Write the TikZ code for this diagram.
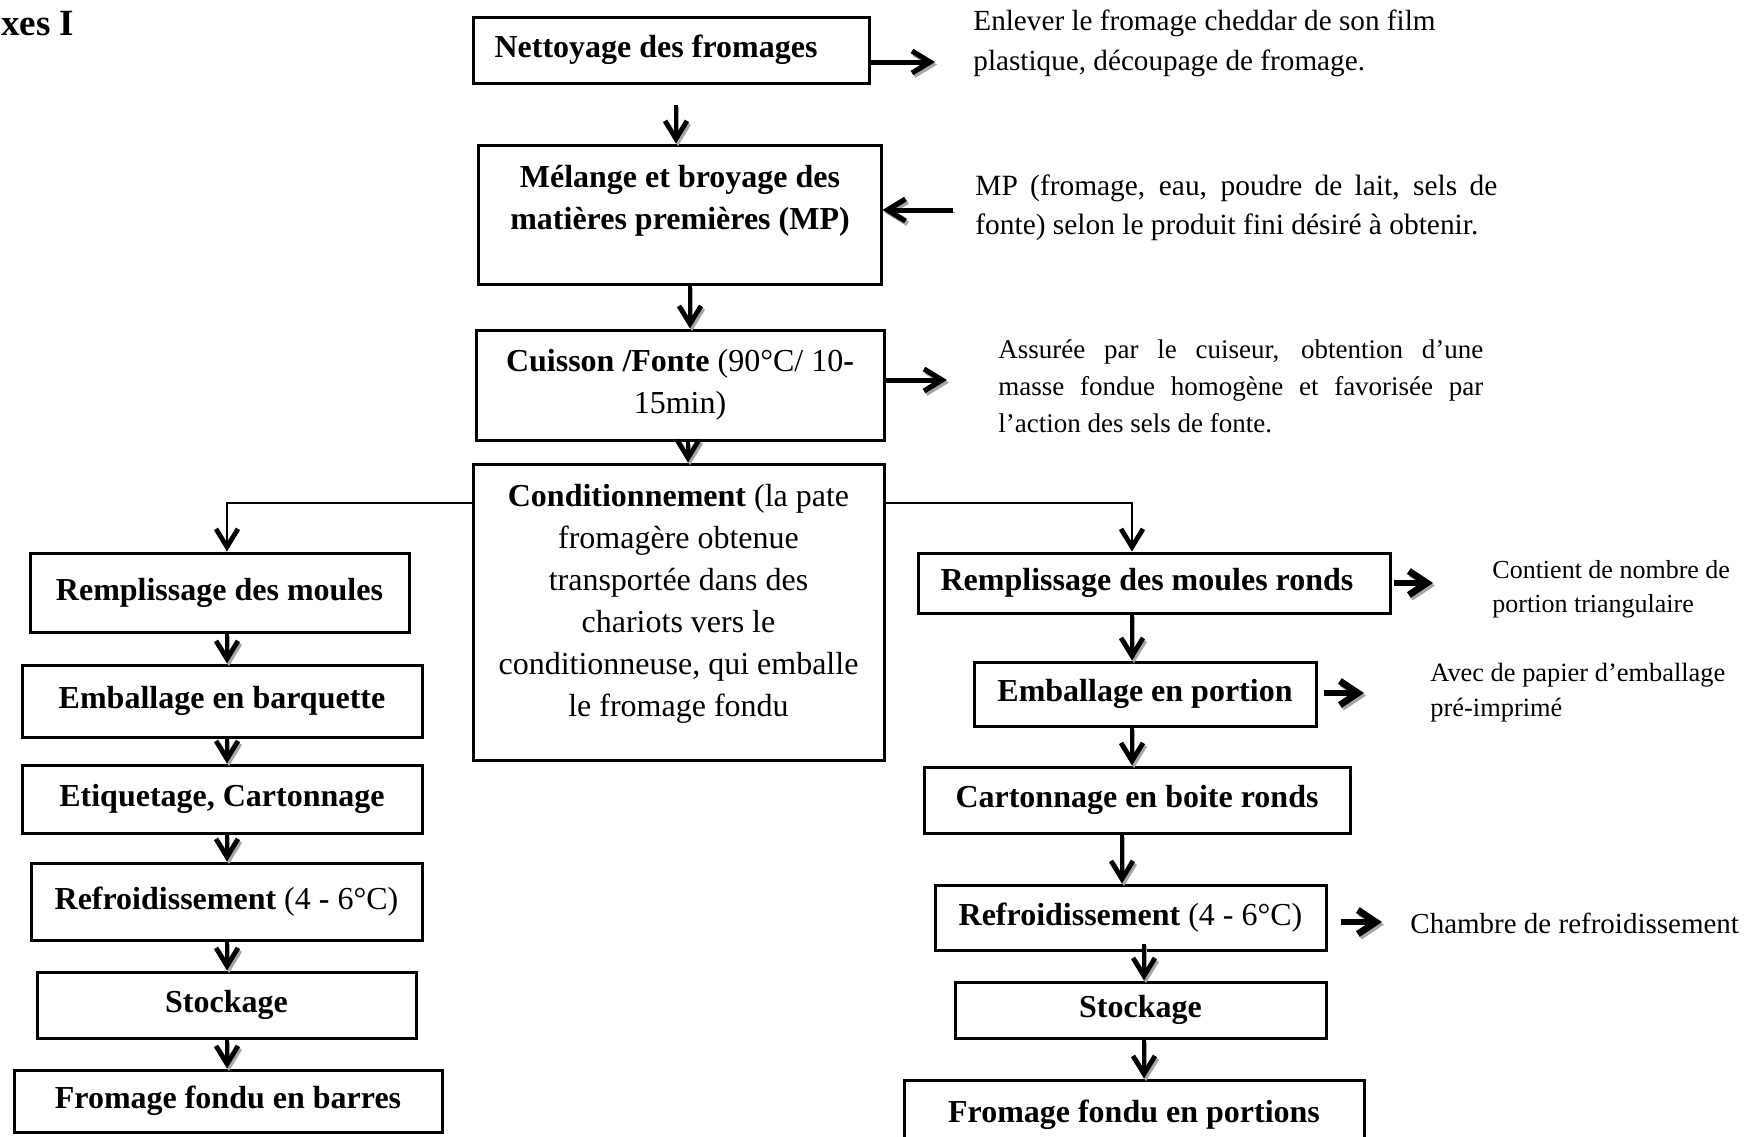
\documentclass[tikz,border=0pt]{standalone}
\usepackage{fontspec}
\setmainfont{Liberation Serif}
\usetikzlibrary{arrows.meta}

\tikzset{
  box/.style={draw, line width=1.5pt, inner sep=0pt, font=\fontsize{16}{21}\selectfont},
  boxtext/.style={inner sep=0pt, align=center, font=\fontsize{16}{21}\selectfont},
  note/.style={inner sep=0pt, anchor=west, align=left},
  shade/.style={preaction={draw=black!35, transform canvas={xshift=1pt,yshift=-1.3pt}}},
  flow/.style={line width=1.6pt, -{Straight Barb[length=9pt,width=11pt,line width=2.4pt]}, shade},
  branch/.style={line width=1.3pt, -{Straight Barb[length=9pt,width=11pt,line width=2.4pt]}},
  side/.style={line width=2.5pt, -{Straight Barb[length=9pt,width=11pt,line width=2.6pt]}, shade},
  sidebold/.style={line width=3pt, -{Straight Barb[length=9pt,width=12pt,line width=3.4pt]}, shade},
}

\begin{document}
\begin{tikzpicture}[x=0.5pt,y=-0.5pt]
\useasboundingbox (0,0) rectangle (1745,1136);
\clip (0,0) rectangle (1745,1136);
\fill[white] (0,0) rectangle (1745,1136);

% heading
\node[inner sep=0pt, anchor=base west, font=\bfseries\fontsize{18.5}{22}\selectfont] (title) at (1,35) {xes I};

% main line
\node[box, minimum width=198pt, minimum height=33pt] (clean) at (671,50) {\hbox{\textbf{Nettoyage des fromages}\kern15pt}};
\node[box, minimum width=201.5pt, minimum height=69.5pt] (mix) at (679.5,214.5) {};
\node[boxtext] (mixtext) at (680,201) {\textbf{Mélange et broyage des}\\\textbf{matières premières (MP)}};
\node[box, align=center, minimum width=204pt, minimum height=55pt] (cook) at (680,385) {\textbf{Cuisson /Fonte} (90°C/ 10\textbf{-}\\15min)};
\node[box, minimum width=205.5pt, minimum height=148pt] (pack) at (678.5,612) {};
\node[boxtext] (packtext) at (678.5,604) {\textbf{Conditionnement} (la pate\\fromagère obtenue\\transportée dans des\\chariots vers le\\conditionneuse, qui emballe\\le fromage fondu};

% bars
\node[box, minimum width=189.5pt, minimum height=39.5pt] (L1) at (219.5,592.5) {\textbf{Remplissage des moules}};
\node[box, minimum width=200pt, minimum height=36pt] (L2) at (222,701) {\textbf{Emballage en barquette}};
\node[box, minimum width=200pt, minimum height=34pt] (L3) at (222,799) {\textbf{Etiquetage, Cartonnage}};
\node[box, minimum width=195.5pt, minimum height=38.5pt] (L4) at (226.5,901.5) {\textbf{Refroidissement} (4 \textbf{-} 6°C)};
\node[box, minimum width=189.5pt, minimum height=33pt] (L5) at (226.5,1005) {\textbf{Stockage}};
\node[box, minimum width=214pt, minimum height=31pt] (L6) at (228,1101) {\textbf{Fromage fondu en barres}};

% portions
\node[box, minimum width=236pt, minimum height=30pt] (R1) at (1154,583) {\hbox{\textbf{Remplissage des moules ronds}\kern7pt}};
\node[box, minimum width=171pt, minimum height=32pt] (R2) at (1145,694) {\textbf{Emballage en portion}};
\node[box, minimum width=213pt, minimum height=33pt] (R3) at (1137,800) {\textbf{Cartonnage en boite ronds}};
\node[box, minimum width=195.5pt, minimum height=32.5pt] (R4) at (1130.5,917.5) {\textbf{Refroidissement} (4 - 6°C)};
\node[box, minimum width=185.5pt, minimum height=28pt] (R5) at (1140.5,1010) {\textbf{Stockage}};
\node[box, minimum width=230pt, minimum height=35pt] (R6) at (1134,1115) {\textbf{Fromage fondu en portions}};

% side notes
\node[note, font=\fontsize{14.6}{20}\selectfont] (n1) at (973,43)
  {Enlever le fromage cheddar de son film\\plastique, découpage de fromage.};
\node[note, font=\fontsize{14.7}{19.5}\selectfont] (n2) at (975,208)
  {\makebox[261pt][s]{MP (fromage, eau, poudre de lait, sels de}\\fonte) selon le produit fini désiré à obtenir.};
\node[note, font=\fontsize{13.5}{18.5}\selectfont] (n3) at (998,386)
  {\makebox[242.5pt][s]{Assurée par le cuiseur, obtention d’une}\\\makebox[242.5pt][s]{masse fondue homogène et favorisée par}\\l’action des sels de fonte.};
\node[note, font=\fontsize{13}{17}\selectfont] (n4) at (1492,589)
  {Contient de nombre de\\portion triangulaire};
\node[note, font=\fontsize{13.2}{17.5}\selectfont] (n5) at (1430,693)
  {Avec de papier d’emballage\\pré-imprimé};
\node[note, font=\fontsize{14.5}{18}\selectfont] (n6) at (1410,923)
  {Chambre de refroidissement};

% arrow ends and column lines
\coordinate (a1) at (935,62);
\coordinate (a2) at (953,210);
\coordinate (a3) at (947,380);
\coordinate (a4) at (1433,583);
\coordinate (a5) at (1364,693);
\coordinate (a6) at (1382,922);
\coordinate (lj) at (227,503);
\coordinate (rj) at (1132,503);
\coordinate (rc) at (1122,0);
\coordinate (rs) at (1144,0);

% main line arrows
\draw[flow, shorten <=10pt] (clean.south -| 676,0) -- (mix.north -| 676,0);
\draw[flow] (mix.south -| 690,0) -- (cook.north -| 690,0);
\draw[flow] (cook.south -| 688,0) -- (pack.north -| 688,0);

% branches
\draw[branch] (pack.west |- lj) -| (lj |- L1.north);
\draw[branch] (pack.east |- rj) -| (rj |- R1.north);

\draw[flow] (lj |- L1.south) -- (lj |- L2.north);
\draw[flow] (lj |- L2.south) -- (lj |- L3.north);
\draw[flow] (lj |- L3.south) -- (lj |- L4.north);
\draw[flow] (lj |- L4.south) -- (lj |- L5.north);
\draw[flow] (lj |- L5.south) -- (lj |- L6.north);

\draw[flow] (rj |- R1.south) -- (rj |- R2.north);
\draw[flow] (rj |- R2.south) -- (rj |- R3.north);
\draw[flow] (rc |- R3.south) -- (rc |- R4.north);
\draw[flow, shorten <=-4pt] (rs |- R4.south) -- (rs |- R5.north);
\draw[flow] (rs |- R5.south) -- (rs |- R6.north);

% notes
\draw[side] (clean.east |- a1) -- (a1);
\draw[side] (a2) -- (mix.east |- a2);
\draw[side] (cook.east |- a3) -- (a3);
\draw[sidebold, shorten <=1pt] (R1.east |- a4) -- (a4);
\draw[sidebold, shorten <=3pt] (R2.east |- a5) -- (a5);
\draw[sidebold, shorten <=6.5pt] (R4.east |- a6) -- (a6);
\end{tikzpicture}
\end{document}
